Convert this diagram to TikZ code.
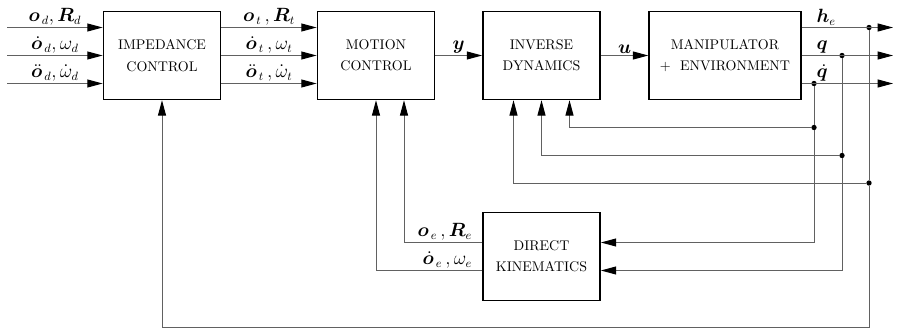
\documentclass[tikz,border=0pt]{standalone}
\usepackage{amsmath}
\usepackage{bm}
\usetikzlibrary{calc,arrows.meta}

\begin{document}
\begin{tikzpicture}[
  x=0.75pt, y=-0.75pt,
  block/.style={
    draw,
    line width=1.1pt,
    minimum width=88pt,
    minimum height=66pt,
    align=center,
    inner sep=2pt,
    font=\fontsize{10.5}{16}\selectfont
  },
  link/.style={draw=black!62, line width=0.75pt},
  arrowlink/.style={
    link,
    -{Triangle[length=11.5pt,width=6pt,color=black]}
  },
  sig/.style={font=\fontsize{13.5}{15}\selectfont, inner sep=1.2pt},
  junction/.style={circle, fill=black, inner sep=0pt, minimum size=4pt}
]

  \useasboundingbox (0,0) rectangle (897,332);

  % Blocks of the loop.
  \node[block] (imp) at (162,55.5)   {IMPEDANCE\\CONTROL};
  \node[block] (mot) at (376,55.5)   {MOTION\\CONTROL};
  \node[block] (inv) at (541.5,55.5) {INVERSE\\DYNAMICS};
  \node[block, minimum width=114pt] (man) at (725,55.5) {MANIPULATOR\\+\ \ ENVIRONMENT};
  \node[block] (dk)  at (541.5,256.5) {DIRECT\\KINEMATICS};

  % Desired motion, coming in from the left.
  \coordinate (od)   at (7,27.5);
  \coordinate (dod)  at (7,55.5);
  \coordinate (ddod) at (7,83.5);
  \draw[arrowlink] (od) -- (od -| imp.west)
    node[midway, above, sig] {$\bm{o}_{\,d},\bm{R}_d$};
  \draw[arrowlink] (dod) -- (dod -| imp.west)
    node[midway, above, sig] {$\dot{\bm{o}}_{\,d},\omega_d$};
  \draw[arrowlink] (ddod) -- (ddod -| imp.west)
    node[midway, above, sig] {$\ddot{\bm{o}}_{\,d},\dot{\omega}_d$};

  % Reference motion to the motion controller.
  \draw[arrowlink] ($(imp.east)+(0,-28)$) -- ($(mot.west)+(0,-28)$)
    node[midway, above, sig] {$\bm{o}_{\,t}\,,\bm{R}_t$};
  \draw[arrowlink] (imp.east) -- (mot.west)
    node[midway, above, sig] {$\dot{\bm{o}}_{\,t}\,,\omega_t$};
  \draw[arrowlink] ($(imp.east)+(0,28)$) -- ($(mot.west)+(0,28)$)
    node[midway, above, sig] {$\ddot{\bm{o}}_{\,t}\,,\dot{\omega}_t$};

  \draw[arrowlink] (mot) -- (inv) node[midway, above, sig] {$\bm{y}$};
  \draw[arrowlink] (inv) -- (man) node[midway, above, sig] {$\bm{u}$};

  % Outputs and their branch points.
  \coordinate (he)  at (893,27.5);
  \coordinate (qo)  at (893,55.5);
  \coordinate (dqo) at (893,83.5);
  \node[junction] (jh)  at (869,27.5) {};
  \node[junction] (jq)  at (842,55.5) {};
  \node[junction] (jdq) at (814,83.5) {};
  \node[junction] (bh)  at (869,183)   {};
  \node[junction] (bq)  at (842,155.5) {};
  \node[junction] (bdq) at (814,127.5) {};

  \draw[arrowlink] (man.east |- he) -- (he)
    node[pos=0.14, anchor=south west, sig] {$\bm{h}_e$};
  \draw[arrowlink] (man.east |- qo) -- (qo)
    node[pos=0.14, anchor=south west, sig] {$\bm{q}$};
  \draw[arrowlink] (man.east |- dqo) -- (dqo)
    node[pos=0.14, anchor=south west, sig] {$\dot{\bm{q}}$};

  % Feedback paths.
  \draw[link] (jdq) -- (bdq);
  \draw[arrowlink] (bdq) |- ($(dk.east)+(0,-14)$);
  \draw[arrowlink] (bdq) -| ($(inv.south)+(28,0)$);

  \draw[link] (jq) -- (bq);
  \draw[arrowlink] (bq) |- ($(dk.east)+(0,14)$);
  \draw[arrowlink] (bq) -| (inv.south);

  \coordinate (bot) at (869,327.5);
  \draw[link] (jh) -- (bh);
  \draw[arrowlink] (bh) -- (bot) -| (imp.south);
  \draw[arrowlink] (bh) -| ($(inv.south)+(-28,0)$);

  % End-effector motion back to the motion controller.
  \draw[arrowlink] ($(dk.west)+(0,-14)$)
    node[above left, sig, xshift=-6pt] {$\bm{o}_{\,e}\,,\bm{R}_e$}
    -| ($(mot.south)+(28,0)$);
  \draw[arrowlink] ($(dk.west)+(0,14)$)
    node[above left, sig, xshift=-6pt] {$\dot{\bm{o}}_{\,e}\,,\omega_e$}
    -| (mot.south);

\end{tikzpicture}
\end{document}
